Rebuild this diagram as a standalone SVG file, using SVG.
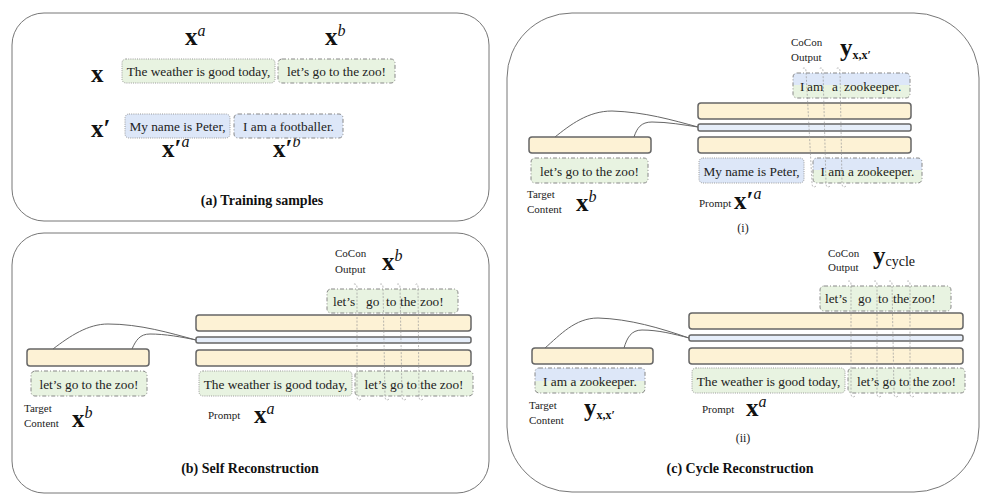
<svg xmlns="http://www.w3.org/2000/svg" width="999" height="504" viewBox="0 0 999 504">
<defs>
<linearGradient id="split" x1="0" y1="0" x2="0" y2="1">
<stop offset="0" stop-color="#dde7f8"/><stop offset="0.5" stop-color="#dde7f8"/><stop offset="0.5" stop-color="#e8f3e1"/><stop offset="1" stop-color="#e8f3e1"/>
</linearGradient>
</defs>
<style>
text{font-family:"Liberation Serif","Times New Roman",Tinos,"DejaVu Serif",serif}
.panel{fill:#fff;stroke:#777;stroke-width:1}
.tok{font-size:13.3px;fill:#222}
.lbl{font-size:11px;fill:#222}
.ttl{font-size:14px;font-weight:bold;fill:#111}
.m{font-size:25px;font-weight:bold;fill:#111}
.sup{font-size:16px;font-style:italic;font-weight:normal}
.sub{font-size:12px;font-weight:bold}
.subr{font-size:14px;font-weight:normal}
.g{fill:#e8f3e1}
.b{fill:#dde7f8}
.s{fill:url(#split)}
.dot{stroke:#999;stroke-width:1;stroke-dasharray:1,1.2}
.dd{stroke:#888;stroke-width:1;stroke-dasharray:4,2,1,2}
.bar{fill:#fdf2d5;stroke:#666;stroke-width:1.5}
.bbar{fill:#e6eefa;stroke:#666;stroke-width:1.5}
.curve{fill:none;stroke:#666;stroke-width:1}
.con{fill:none;stroke:#999;stroke-width:0.7;stroke-dasharray:2,1.5}
</style>

<!-- Panel (a) -->
<g id="panel-a">
<rect class="panel" x="12" y="13" width="477" height="208" rx="32"/>
<text class="m" x="185" y="45">x<tspan class="sup" dy="-9">a</tspan></text>
<text class="m" x="325" y="45">x<tspan class="sup" dy="-9">b</tspan></text>
<text class="m" x="91" y="82">x</text>
<text class="m" x="91" y="137">x′</text>
<text class="m" x="162" y="157">x′<tspan class="sup" dy="-10">a</tspan></text>
<text class="m" x="273" y="157">x′<tspan class="sup" dy="-10">b</tspan></text>
<rect class="g dot" x="122" y="59" width="153" height="24" rx="4"/>
<text class="tok" x="198.5" y="76" text-anchor="middle">The weather is good today,</text>
<rect class="g dd" x="278" y="59" width="117" height="24" rx="4"/>
<text class="tok" x="336.5" y="76" text-anchor="middle">let’s go to the zoo!</text>
<rect class="b dot" x="125" y="114" width="105" height="24" rx="4"/>
<text class="tok" x="177.5" y="131" text-anchor="middle">My name is Peter,</text>
<rect class="b dd" x="234" y="114" width="109" height="24" rx="4"/>
<text class="tok" x="288.5" y="131" text-anchor="middle">I am a footballer.</text>
<text class="ttl" x="262" y="205" text-anchor="middle">(a) Training samples</text>
</g>

<!-- Panel (b) -->
<g id="panel-b">
<rect class="panel" x="12" y="233" width="477" height="260" rx="32"/>
<text class="lbl" x="335" y="257">CoCon</text>
<text class="lbl" x="335" y="273">Output</text>
<text class="m" x="382" y="270">x<tspan class="sup" dy="-9">b</tspan></text>
<rect class="g dd" x="327" y="289" width="131" height="24" rx="4"/>
<text class="tok" y="306"><tspan x="333">let’s</tspan><tspan x="366">go</tspan><tspan x="386">to</tspan><tspan x="400">the</tspan><tspan x="420">zoo!</tspan></text>
<rect class="bar" x="196" y="315" width="275" height="16" rx="3"/>
<rect class="bbar" x="196" y="337" width="275" height="6" rx="2"/>
<rect class="bar" x="196" y="350" width="275" height="16" rx="3"/>
<rect class="bar" x="27" y="349" width="122" height="17" rx="3"/>
<rect class="g dd" x="31" y="371" width="116" height="25" rx="4"/>
<text class="tok" x="89" y="389" text-anchor="middle">let’s go to the zoo!</text>
<rect class="g dot" x="199" y="371" width="153" height="25" rx="4"/>
<text class="tok" x="275.5" y="389" text-anchor="middle">The weather is good today,</text>
<rect class="g dd" x="355" y="371" width="118" height="25" rx="4"/>
<text class="tok" x="414" y="389" text-anchor="middle">let’s go to the zoo!</text>
<text class="lbl" x="24" y="412">Target</text>
<text class="lbl" x="24" y="427">Content</text>
<text class="m" x="72" y="427">x<tspan class="sup" dy="-9">b</tspan></text>
<text class="lbl" x="208" y="419">Prompt</text>
<text class="m" x="254" y="423">x<tspan class="sup" dy="-9">a</tspan></text>
<text class="ttl" x="250" y="473" text-anchor="middle">(b) Self Reconstruction</text>
</g>

<!-- Panel (c) -->
<g id="panel-c">
<rect class="panel" x="507" y="13" width="472" height="479" rx="65"/>
<!-- (i) -->
<text class="lbl" x="791" y="46">CoCon</text>
<text class="lbl" x="791" y="61">Output</text>
<text class="m" x="840" y="56">y<tspan class="sub" dy="3">x,x′</tspan></text>
<rect class="s dd" x="793" y="73" width="117" height="25" rx="4"/>
<text class="tok" y="91"><tspan x="800">I</tspan><tspan x="807">am</tspan><tspan x="832">a</tspan><tspan x="844">zookeeper.</tspan></text>
<rect class="bar" x="698" y="103" width="213" height="16" rx="3"/>
<rect class="bbar" x="698" y="124" width="213" height="7" rx="2"/>
<rect class="bar" x="698" y="137" width="213" height="16" rx="3"/>
<rect class="bar" x="529" y="137" width="122" height="16" rx="3"/>
<rect class="g dd" x="531" y="158" width="117" height="25" rx="4"/>
<text class="tok" x="589.5" y="176" text-anchor="middle">let’s go to the zoo!</text>
<rect class="b dot" x="699" y="158" width="105" height="25" rx="4"/>
<text class="tok" x="751.5" y="176" text-anchor="middle">My name is Peter,</text>
<rect class="s dd" x="813" y="158" width="109" height="25" rx="4"/>
<text class="tok" x="867.5" y="176" text-anchor="middle">I am a zookeeper.</text>
<text class="lbl" x="527" y="198">Target</text>
<text class="lbl" x="527" y="213">Content</text>
<text class="m" x="576" y="211">x<tspan class="sup" dy="-9">b</tspan></text>
<text class="lbl" x="699" y="207">Prompt</text>
<text class="m" x="734" y="209">x′<tspan class="sup" dy="-10">a</tspan></text>
<text class="lbl" x="743" y="232" text-anchor="middle" style="font-size:12px">(i)</text>
<!-- (ii) -->
<text class="lbl" x="828" y="257">CoCon</text>
<text class="lbl" x="828" y="271">Output</text>
<text class="m" x="873" y="264">y<tspan class="subr" dy="2">cycle</tspan></text>
<rect class="g dd" x="820" y="286" width="131" height="25" rx="4"/>
<text class="tok" y="303"><tspan x="825">let’s</tspan><tspan x="858">go</tspan><tspan x="878">to</tspan><tspan x="893">the</tspan><tspan x="912">zoo!</tspan></text>
<rect class="bar" x="689" y="313" width="274" height="16" rx="3"/>
<rect class="bbar" x="689" y="335" width="274" height="6" rx="2"/>
<rect class="bar" x="689" y="348" width="274" height="16" rx="3"/>
<rect class="bar" x="532" y="348" width="121" height="16" rx="3"/>
<rect class="s dd" x="535" y="368" width="110" height="25" rx="4"/>
<text class="tok" x="590" y="386" text-anchor="middle">I am a zookeeper.</text>
<rect class="g dot" x="692" y="368" width="153" height="25" rx="4"/>
<text class="tok" x="768.5" y="386" text-anchor="middle">The weather is good today,</text>
<rect class="g dd" x="848" y="368" width="117" height="25" rx="4"/>
<text class="tok" x="906.5" y="386" text-anchor="middle">let’s go to the zoo!</text>
<text class="lbl" x="529" y="409">Target</text>
<text class="lbl" x="529" y="424">Content</text>
<text class="m" x="584" y="416">y<tspan class="sub" dy="3">x,x′</tspan></text>
<text class="lbl" x="702" y="413">Prompt</text>
<text class="m" x="746" y="416">x<tspan class="sup" dy="-9">a</tspan></text>
<text class="lbl" x="743" y="442" text-anchor="middle" style="font-size:12px">(ii)</text>
<text class="ttl" x="740" y="473" text-anchor="middle">(c) Cycle Reconstruction</text>
</g>

<!-- Connectors -->
<g id="connectors">
<path class="curve" d="M53,349 C70,336 88,324 108,324 C140,324 170,333 196,340"/>
<path class="curve" d="M132,349 C136,340 140,334 150,334 C165,334 182,337 196,340"/>
<path class="curve" d="M555,137 C570,125 588,111 612,111 C645,112 672,120 698,127"/>
<path class="curve" d="M634,137 C637,128 641,122 652,122 C668,122 684,125 698,127"/>
<path class="curve" d="M545,348 C560,335 575,318 598,318 C630,319 660,328 689,338"/>
<path class="curve" d="M624,348 C627,338 631,330 642,330 C658,330 674,334 689,338"/>
<!-- (b) token links -->
<path class="con" d="M361,399 c-2,2 -4,1 -4,-3 L357,287 c0,-3 -3,-4 -4,-2"/>
<path class="con" d="M389,399 c-2,2 -4,1 -4,-3 L383,287 c0,-3 -2,-4 -4,-2"/>
<path class="con" d="M406,399 c-2,2 -4,1 -4,-3 L400,287 c0,-3 -2,-4 -4,-2"/>
<path class="con" d="M423,399 c-2,2 -4,1 -4,-3 L418,287 c0,-3 -1,-4 -3,-2"/>
<!-- (i) token links -->
<path class="con" d="M816,186 c-2,2 -4,1 -4,-3 L806,71 c0,-3 -2,-4 -4,-2"/>
<path class="con" d="M830,186 c-2,2 -4,1 -4,-3 L823,71 c0,-3 -2,-4 -4,-2"/>
<path class="con" d="M846,186 c-2,2 -4,1 -4,-3 L840,71 c0,-3 -2,-4 -4,-2"/>
<!-- (ii) token links -->
<path class="con" d="M855,396 c-2,2 -4,1 -4,-3 L851,284 c0,-3 -2,-4 -4,-2"/>
<path class="con" d="M881,396 c-2,2 -4,1 -4,-3 L877,284 c0,-3 -2,-4 -4,-2"/>
<path class="con" d="M898,396 c-2,2 -4,1 -4,-3 L892,284 c0,-3 -2,-4 -4,-2"/>
<path class="con" d="M914,396 c-2,2 -4,1 -4,-3 L910,284 c0,-3 -2,-4 -4,-2"/>
</g>
</svg>
